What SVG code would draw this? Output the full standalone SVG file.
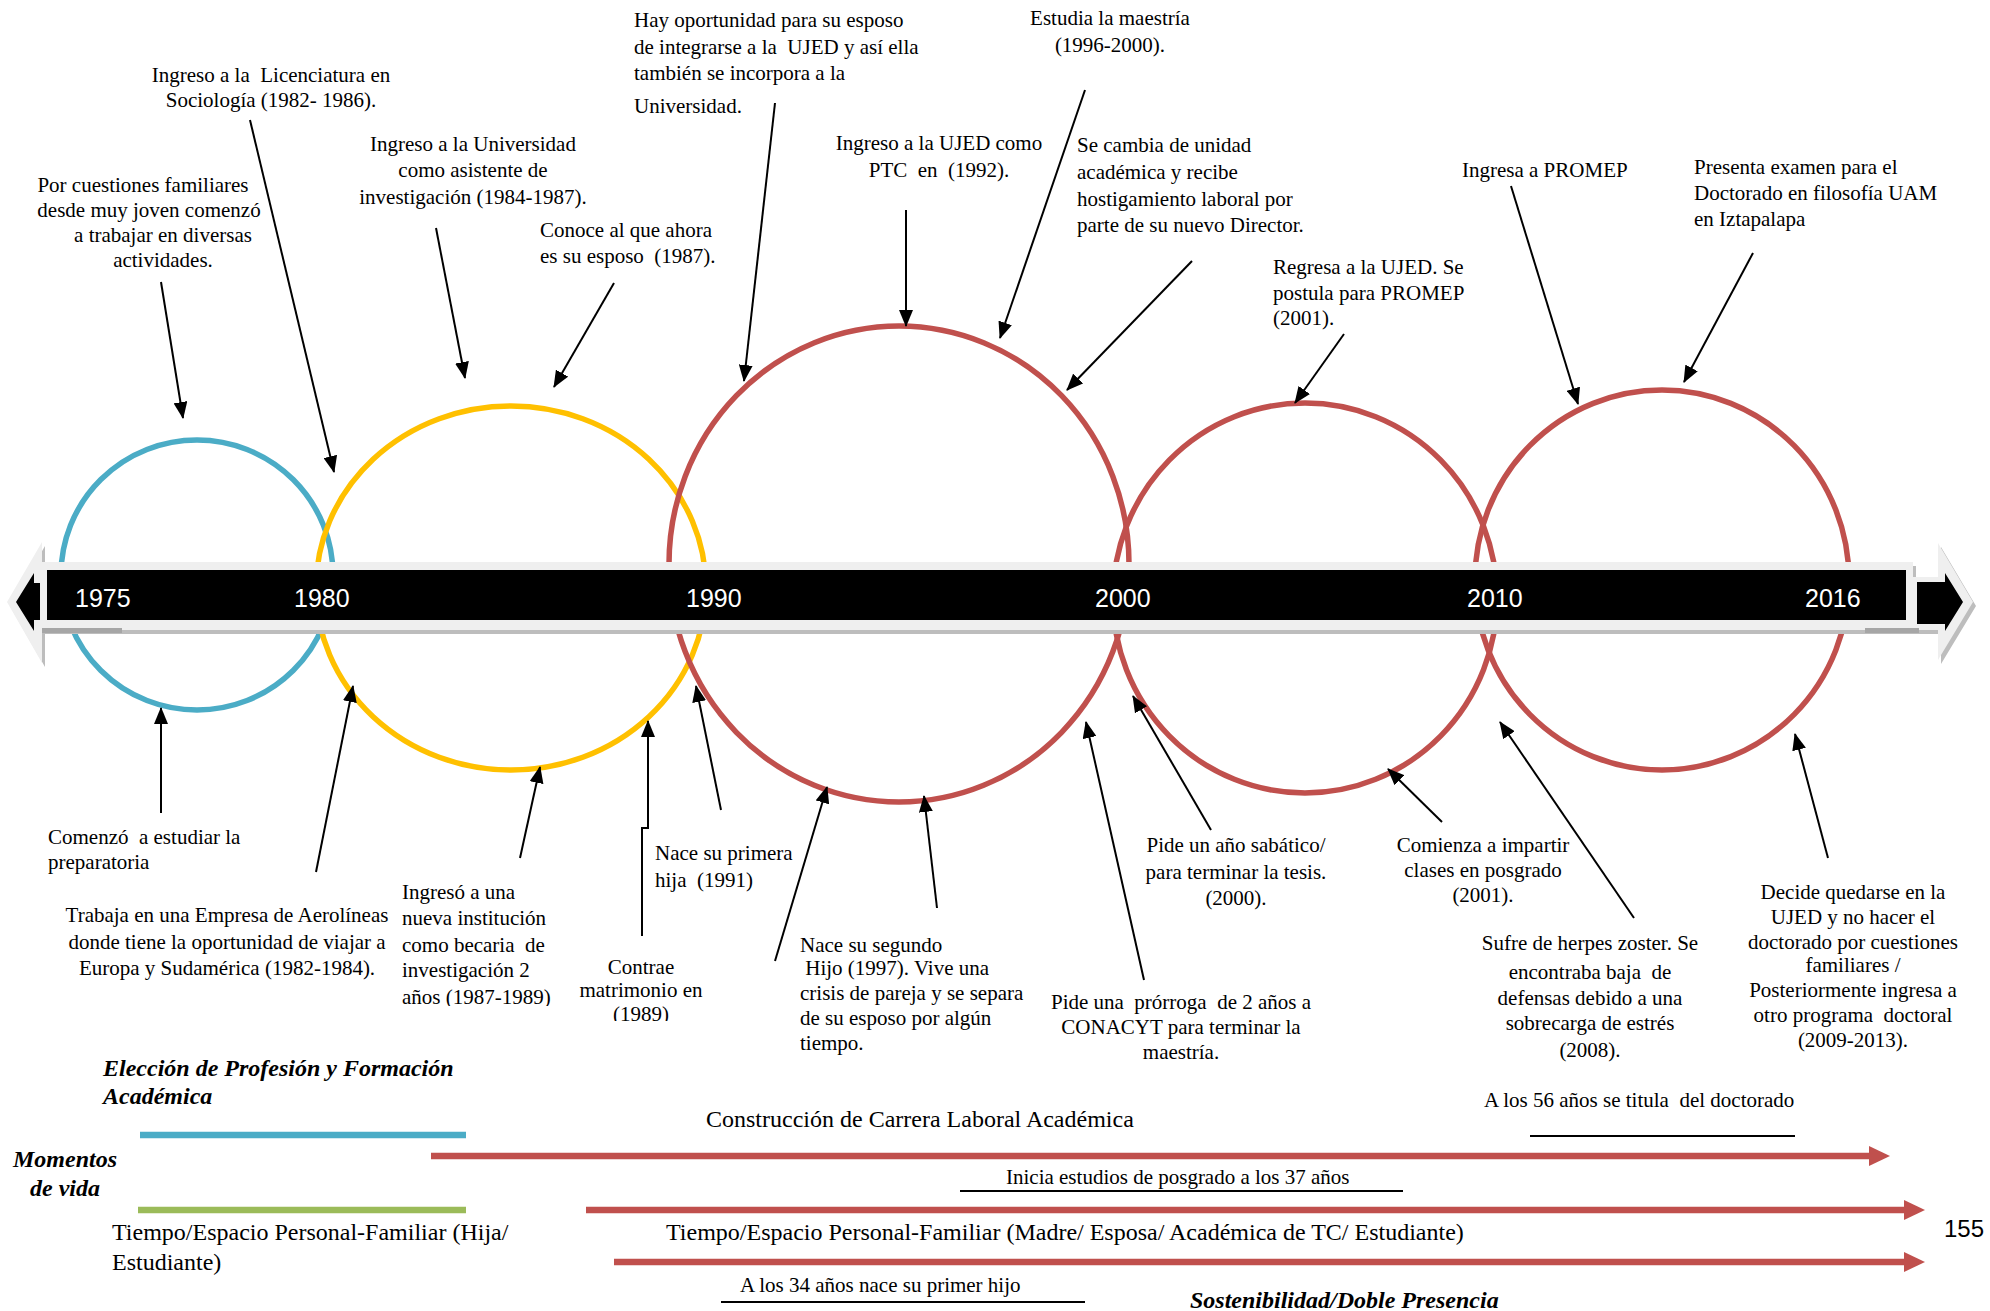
<svg xmlns="http://www.w3.org/2000/svg" width="1990" height="1311" viewBox="0 0 1990 1311" xml:space="preserve">
<defs>
<style>
text{white-space:pre}
.t{font-family:"Liberation Serif","Times New Roman",serif;font-size:21px;fill:#000}
.m{text-anchor:middle}
.big{font-size:24px}
.bi{font-family:"Liberation Serif","Times New Roman",serif;font-weight:bold;font-style:italic;font-size:24px;fill:#000}
.yr{font-family:"Liberation Sans",Arial,sans-serif;font-size:25px;fill:#fff}
.ring{fill:none;stroke-width:5.5}
.conn{stroke:#000;stroke-width:2;fill:none;marker-end:url(#ah)}
.band{stroke-width:6.5;fill:none}
.red{stroke:#C0504D}
.ul{stroke:#000;stroke-width:2.2}
</style>
<marker id="ah" markerUnits="userSpaceOnUse" markerWidth="17" markerHeight="14" refX="16" refY="7" orient="auto"><path d="M0,0 L17,7 L0,14 Z" fill="#000"/></marker>
<marker id="rh" markerUnits="userSpaceOnUse" markerWidth="21" markerHeight="20" refX="1" refY="10" orient="auto"><path d="M0,0 L21,10 L0,20 Z" fill="#C0504D"/></marker>
<clipPath id="c1"><rect x="380" y="860" width="200" height="146"/></clipPath>
<clipPath id="c2"><rect x="560" y="940" width="160" height="81"/></clipPath>
</defs>
<rect width="1990" height="1311" fill="#fff"/>
<g id="rings">
<ellipse id="r1975" class="ring" cx="197" cy="575" rx="136" ry="135" stroke="#4BACC6"/>
<ellipse id="r1980" class="ring" cx="511" cy="588" rx="195" ry="182" stroke="#FFC000"/>
<ellipse id="r1990" class="ring" cx="899" cy="564" rx="230" ry="238" stroke="#C0504D"/>
<ellipse id="r2000" class="ring" cx="1305" cy="598" rx="192" ry="195" stroke="#C0504D"/>
<ellipse id="r2010" class="ring" cx="1662" cy="580" rx="187" ry="190" stroke="#C0504D"/>
</g>
<g id="timeline">
<polygon points="10,606 45,546 45,566 1916,566 1916,581 1941,581 1941,547 1976,606 1941,664 1941,634 45,634 45,667" fill="#BDBDBD"/>
<polygon points="7,602 42,542 42,562 1913,562 1913,577 1938,577 1938,543 1973,602 1938,660 1938,630 42,630 42,663" fill="#EFEFEF"/>
<rect x="42" y="628" width="80" height="5" fill="#A6A6A6"/>
<rect x="1865" y="628" width="54" height="5" fill="#A6A6A6"/>
<rect x="47" y="570" width="1859" height="50" fill="#000"/>
<polygon points="16,602 34,573 34,583 40,583 40,620 34,620 34,631" fill="#000"/>
<polygon points="1917,582 1945,582 1945,573 1963,602 1945,631 1945,624 1917,624" fill="#000"/>
<text class="yr" x="75" y="607">1975</text>
<text class="yr" x="294" y="607">1980</text>
<text class="yr" x="686" y="607">1990</text>
<text class="yr" x="1095" y="607">2000</text>
<text class="yr" x="1467" y="607">2010</text>
<text class="yr" x="1805" y="607">2016</text>
</g>
<g id="connectors">
<path class="conn" d="M161,282 L183,418"/>
<path class="conn" d="M250,120 L334,472"/>
<path class="conn" d="M436,228 L465,378"/>
<path class="conn" d="M614,283 L554,387"/>
<path class="conn" d="M775,103 L744,381"/>
<path class="conn" d="M906,210 L906,326"/>
<path class="conn" d="M1085,90 L1000,338"/>
<path class="conn" d="M1192,261 L1067,390"/>
<path class="conn" d="M1344,334 L1295,403"/>
<path class="conn" d="M1511,186 L1578,404"/>
<path class="conn" d="M1753,253 L1684,382"/>
<path class="conn" d="M161,813 L161,708"/>
<path class="conn" d="M316,872 L353,686"/>
<path class="conn" d="M520,858 L540,767"/>
<path class="conn" d="M642,936 V828 H648 V721"/>
<path class="conn" d="M721,810 L696,686"/>
<path class="conn" d="M775,961 L827,787"/>
<path class="conn" d="M937,908 L924,796"/>
<path class="conn" d="M1144,980 L1086,722"/>
<path class="conn" d="M1211,830 L1133,696"/>
<path class="conn" d="M1442,822 L1388,769"/>
<path class="conn" d="M1634,918 L1500,722"/>
<path class="conn" d="M1828,858 L1795,734"/>
<path class="band red" d="M431,1156 H1870" marker-end="url(#rh)"/>
<path class="band red" d="M586,1210 H1905" marker-end="url(#rh)"/>
<path class="band red" d="M614,1262 H1905" marker-end="url(#rh)"/>
</g>
<g id="callouts">
<g id="n_licenciatura"><text class="t m" x="271" y="82">Ingreso a la  Licenciatura en</text><text class="t m" x="271" y="107">Sociología (1982- 1986).</text></g>
<g id="n_familiares"><text class="t m" x="143" y="192">Por cuestiones familiares</text><text class="t m" x="149" y="217">desde muy joven comenzó</text><text class="t m" x="163" y="242">a trabajar en diversas</text><text class="t m" x="163" y="267">actividades.</text></g>
<g id="n_asistente"><text class="t m" x="473" y="151">Ingreso a la Universidad</text><text class="t m" x="473" y="177">como asistente de</text><text class="t m" x="473" y="204">investigación (1984-1987).</text></g>
<g id="n_esposo"><text class="t" x="540" y="237">Conoce al que ahora</text><text class="t" x="540" y="263">es su esposo  (1987).</text></g>
<g id="n_oportunidad"><text class="t" x="634" y="27">Hay oportunidad para su esposo</text><text class="t" x="634" y="54">de integrarse a la  UJED y así ella</text><text class="t" x="634" y="80">también se incorpora a la</text><text class="t" x="634" y="113">Universidad.</text></g>
<g id="n_maestria"><text class="t m" x="1110" y="25">Estudia la maestría</text><text class="t m" x="1110" y="52">(1996-2000).</text></g>
<g id="n_ptc"><text class="t m" x="939" y="150">Ingreso a la UJED como</text><text class="t m" x="939" y="177">PTC  en  (1992).</text></g>
<g id="n_cambia"><text class="t" x="1077" y="152">Se cambia de unidad</text><text class="t" x="1077" y="179">académica y recibe</text><text class="t" x="1077" y="206">hostigamiento laboral por</text><text class="t" x="1077" y="232">parte de su nuevo Director.</text></g>
<g id="n_regresa"><text class="t" x="1273" y="274">Regresa a la UJED. Se</text><text class="t" x="1273" y="300">postula para PROMEP</text><text class="t" x="1273" y="325">(2001).</text></g>
<g id="n_promep"><text class="t" x="1462" y="177">Ingresa a PROMEP</text></g>
<g id="n_examen"><text class="t" x="1694" y="174">Presenta examen para el</text><text class="t" x="1694" y="200">Doctorado en filosofía UAM</text><text class="t" x="1694" y="226">en Iztapalapa</text></g>
<g id="n_preparatoria"><text class="t" x="48" y="844">Comenzó  a estudiar la</text><text class="t" x="48" y="869">preparatoria</text></g>
<g id="n_aerolineas"><text class="t m" x="227" y="922">Trabaja en una Empresa de Aerolíneas</text><text class="t m" x="227" y="949">donde tiene la oportunidad de viajar a</text><text class="t m" x="227" y="975">Europa y Sudamérica (1982-1984).</text></g>
<g id="n_becaria" clip-path="url(#c1)"><text class="t" x="402" y="899">Ingresó a una</text><text class="t" x="402" y="925">nueva institución</text><text class="t" x="402" y="952">como becaria  de</text><text class="t" x="402" y="977">investigación 2</text><text class="t" x="402" y="1004">años (1987-1989)</text></g>
<g id="n_matrimonio" clip-path="url(#c2)"><text class="t m" x="641" y="974">Contrae</text><text class="t m" x="641" y="997">matrimonio en</text><text class="t m" x="641" y="1021">(1989)</text></g>
<g id="n_hija"><text class="t" x="655" y="860">Nace su primera</text><text class="t" x="655" y="887">hija  (1991)</text></g>
<g id="n_hijo"><text class="t" x="800" y="952">Nace su segundo</text><text class="t" x="800" y="975"> Hijo (1997). Vive una</text><text class="t" x="800" y="1000">crisis de pareja y se separa</text><text class="t" x="800" y="1025">de su esposo por algún</text><text class="t" x="800" y="1050">tiempo.</text></g>
<g id="n_sabatico"><text class="t m" x="1236" y="852">Pide un año sabático/</text><text class="t m" x="1236" y="879">para terminar la tesis.</text><text class="t m" x="1236" y="905">(2000).</text></g>
<g id="n_prorroga"><text class="t m" x="1181" y="1009">Pide una  prórroga  de 2 años a</text><text class="t m" x="1181" y="1034">CONACYT para terminar la</text><text class="t m" x="1181" y="1059">maestría.</text></g>
<g id="n_posgrado"><text class="t m" x="1483" y="852">Comienza a impartir</text><text class="t m" x="1483" y="877">clases en posgrado</text><text class="t m" x="1483" y="902">(2001).</text></g>
<g id="n_herpes"><text class="t m" x="1590" y="950">Sufre de herpes zoster. Se</text><text class="t m" x="1590" y="979">encontraba baja  de</text><text class="t m" x="1590" y="1005">defensas debido a una</text><text class="t m" x="1590" y="1030">sobrecarga de estrés</text><text class="t m" x="1590" y="1057">(2008).</text></g>
<g id="n_decide"><text class="t m" x="1853" y="899">Decide quedarse en la</text><text class="t m" x="1853" y="924">UJED y no hacer el</text><text class="t m" x="1853" y="949">doctorado por cuestiones</text><text class="t m" x="1853" y="972">familiares /</text><text class="t m" x="1853" y="997">Posteriormente ingresa a</text><text class="t m" x="1853" y="1022">otro programa  doctoral</text><text class="t m" x="1853" y="1047">(2009-2013).</text></g>
</g>
<g id="momentos">
<text class="bi" x="103" y="1076">Elección de Profesión y Formación</text>
<text class="bi" x="103" y="1104">Académica</text>
<line x1="140" y1="1135" x2="466" y2="1135" stroke="#4BACC6" stroke-width="6.5"/>
<text class="t big" x="706" y="1127">Construcción de Carrera Laboral Académica</text>
<text class="t" x="1484" y="1107">A los 56 años se titula  del doctorado</text>
<line class="ul" x1="1530" y1="1136" x2="1795" y2="1136"/>
<text class="bi m" x="65" y="1167">Momentos</text>
<text class="bi m" x="65" y="1196">de vida</text>
<text class="t" x="1006" y="1184">Inicia estudios de posgrado a los 37 años</text>
<line class="ul" x1="960" y1="1191" x2="1403" y2="1191"/>
<line x1="138" y1="1210" x2="466" y2="1210" stroke="#9BBB59" stroke-width="6.5"/>
<text class="t big" x="112" y="1240">Tiempo/Espacio Personal-Familiar (Hija/</text>
<text class="t big" x="112" y="1270">Estudiante)</text>
<text class="t big" x="666" y="1240">Tiempo/Espacio Personal-Familiar (Madre/ Esposa/ Académica de TC/ Estudiante)</text>
<text class="t" x="740" y="1292">A los 34 años nace su primer hijo</text>
<line class="ul" x1="721" y1="1302" x2="1085" y2="1302"/>
<text class="bi" x="1190" y="1308">Sostenibilidad/Doble Presencia</text>
<text x="1944" y="1237" style="font-family:'Liberation Sans',Arial,sans-serif;font-size:24px;fill:#000">155</text>
</g>
</svg>
